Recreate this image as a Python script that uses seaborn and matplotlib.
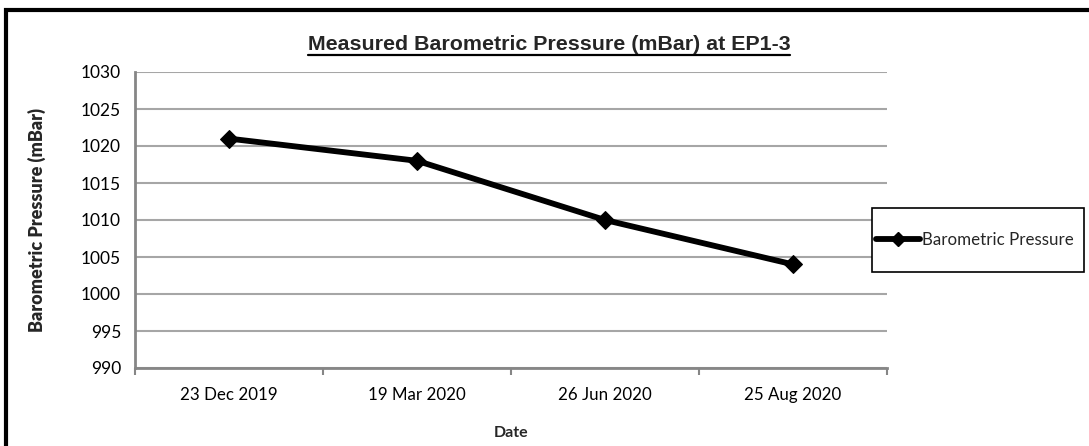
import matplotlib
matplotlib.use("Agg")
import matplotlib.pyplot as plt
import seaborn as sns
import pandas as pd
import numpy as np
from matplotlib.patches import Rectangle
from matplotlib.lines import Line2D

dates = ["23 Dec 2019", "19 Mar 2020", "26 Jun 2020", "25 Aug 2020"]
pressure = [1021, 1018, 1010, 1004]
yticks = [990, 995, 1000, 1005, 1010, 1015, 1020, 1025, 1030]
series_name = "Barometric Pressure"

sns.set_style("white")
plt.rcParams['font.family'] = ['Lato', 'DejaVu Sans']

W, H = 1089, 446
fig = plt.figure(figsize=(W / 100, H / 100), dpi=100)
ax = fig.add_axes([135 / W, 1 - 368 / H, (887 - 135) / W, (368 - 72) / H])

df = pd.DataFrame({"Date": dates, "Pressure": pressure})
sns.lineplot(data=df, x="Date", y="Pressure", ax=ax, color="black", linewidth=4.2,
             marker="D", markersize=9, markeredgecolor="black", label=series_name,
             legend=False, sort=False, zorder=5)

ax.set_ylim(990, 1030)
ax.set_xlim(-0.5, len(dates) - 0.5)
ax.set_yticks(yticks)
ax.set_xticks(range(len(dates)))
ax.set_xticklabels(dates)
ax.set_xticks(np.arange(-0.5, len(dates), 1.0), minor=True)

grid_c = "#A6A6A6"
axis_c = "#868686"
ax.yaxis.grid(True, color=grid_c, linewidth=1.5)
ax.xaxis.grid(False)
ax.set_axisbelow(True)
for s in ["top", "right"]:
    ax.spines[s].set_visible(False)
for s in ["left", "bottom"]:
    ax.spines[s].set_color(axis_c)
    ax.spines[s].set_linewidth(2)

ax.tick_params(axis="y", which="major", length=5, width=1.5, color=axis_c, labelsize=12.5, pad=5, labelcolor="black")
ax.tick_params(axis="x", which="major", length=0, labelsize=12.2, pad=14, labelcolor="black")
ax.tick_params(axis="x", which="minor", length=5, width=1.5, color=axis_c, bottom=True)

ax.set_xlabel("Date", fontsize=11.5, fontweight="bold", labelpad=16)
ax.set_ylabel("Barometric Pressure (mBar)", fontsize=13, fontweight="heavy", labelpad=25)

fig.text(549 / W, 1 - 44 / H, "Measured Barometric Pressure (mBar) at EP1-3",
         ha="center", va="center", fontsize=15.4, fontweight="bold",
         family=["Liberation Sans", "DejaVu Sans"])
# underline for title
fig.add_artist(Line2D([308 / W, 790 / W], [1 - 54.5 / H, 1 - 54.5 / H], color="black", linewidth=1.6,
                      transform=fig.transFigure))

# legend frame
fig.add_artist(Rectangle((872 / W, 1 - 272 / H), (1084 - 872) / W, (272 - 208) / H,
                         transform=fig.transFigure, facecolor="white", edgecolor="black",
                         linewidth=1.2, zorder=10))
handle = Line2D([], [], color="black", linewidth=4.2, marker="D", markersize=7)
leg = fig.legend([handle], [series_name], loc="center left",
                 bbox_to_anchor=(876 / W, 1 - 240 / H),
                 frameon=False, fontsize=12.2, handlelength=2.6,
                 handletextpad=0.1, borderpad=0, borderaxespad=0)
leg.set_zorder(11)

# outer border (left and top visible)
fig.add_artist(Rectangle((6 / W, -0.1), 1.2, 1.1 - 9.5 / H, transform=fig.transFigure,
                         fill=False, edgecolor="black", linewidth=3))

fig.savefig("out.png", dpi=100)
